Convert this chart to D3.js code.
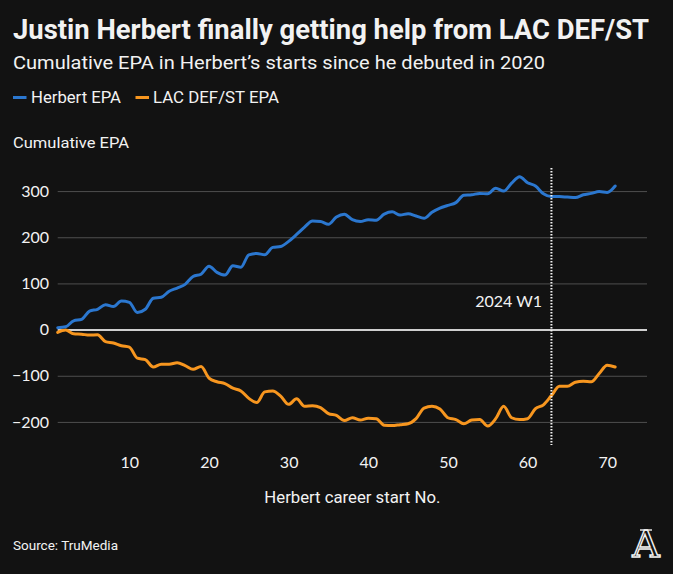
<!DOCTYPE html>
<html>
<head>
<meta charset="utf-8">
<script src="https://cdn.jsdelivr.net/npm/d3@7"></script>
<style>
  html, body { margin: 0; padding: 0; background: #121212; }
  svg { display: block; }
</style>
</head>
<body>
<svg id="chart" width="673" height="574"></svg>
<script>
// ---- data ----
const starts = d3.range(1, 72); // Herbert career start No. 1..71
const herbertEPA = [
  4, 6, 19, 22, 40, 44, 54, 50, 62, 59,
  37, 44, 68, 70, 83, 90, 98, 115, 120, 137,
  124, 118, 138, 135, 162, 165, 162, 178, 180, 191,
  206, 222, 235, 234, 228, 244, 250, 238, 234, 238,
  237, 250, 255, 248, 251, 246, 241, 254, 263, 269,
  275, 291, 292, 295, 294, 306, 300, 317, 331, 318,
  311, 294, 288, 288, 287, 286, 292, 295, 299, 297,
  311
];
const lacEPA = [
  -6, -1, -9, -10, -12, -11, -26, -29, -35, -38,
  -62, -65, -81, -75, -75, -72, -78, -86, -80, -105,
  -113, -117, -127, -133, -149, -158, -135, -133, -144, -162,
  -150, -166, -165, -169, -182, -186, -197, -191, -196, -192,
  -193, -207, -208, -206, -204, -193, -170, -166, -172, -191,
  -195, -204, -196, -195, -209, -193, -166, -191, -195, -193,
  -171, -163, -143, -123, -123, -114, -112, -113, -95, -77,
  -81
];
const seriesNames = ["Herbert EPA", "LAC DEF/ST EPA"];
const seriesColors = ["#2b77cf", "#f7961f"];
const yTicks = [-200, -100, 0, 100, 200, 300];
const xTicks = [10, 20, 30, 40, 50, 60, 70];
const markerStart = 63;
const markerLabel = "2024 W1";

// ---- layout ----
const svg = d3.select("#chart");
const W = 673, H = 574;
svg.append("rect").attr("width", W).attr("height", H).attr("fill", "#121212");

const plot = { left: 57.7, right: 647, top: 168, bottom: 445 };
const x = d3.scaleLinear().domain([1, 75]).range([plot.left, plot.right]);
const y = d3.scaleLinear().domain([-250, 350]).range([plot.bottom, plot.top]);

const textColor = "#f2f2f2";
const condensed = "'Liberation Sans Narrow', 'Roboto', 'Arial Narrow', sans-serif";

// title
svg.append("text")
  .attr("x", 13).attr("y", 39)
  .attr("font-family", condensed).attr("font-weight", 700)
  .attr("font-size", 27).attr("fill", textColor)
  .attr("textLength", 636).attr("lengthAdjust", "spacingAndGlyphs")
  .text("Justin Herbert finally getting help from LAC DEF/ST");

svg.append("text")
  .attr("x", 13).attr("y", 69)
  .attr("font-family", "Roboto, sans-serif")
  .attr("font-size", 18).attr("fill", textColor)
  .attr("textLength", 532).attr("lengthAdjust", "spacingAndGlyphs")
  .text("Cumulative EPA in Herbert\u2019s starts since he debuted in 2020");

// legend
const legendItems = [
  { name: seriesNames[0], color: seriesColors[0], x0: 13, tx: 31, tw: 90 },
  { name: seriesNames[1], color: seriesColors[1], x0: 135.5, tx: 153, tw: 126 }
];
const lg = svg.append("g");
legendItems.forEach(d => {
  lg.append("line")
    .attr("x1", d.x0).attr("x2", d.x0 + 13.5)
    .attr("y1", 97.5).attr("y2", 97.5)
    .attr("stroke", d.color).attr("stroke-width", 3);
  lg.append("text")
    .attr("x", d.tx).attr("y", 102.7)
    .attr("font-family", "Roboto, sans-serif").attr("font-size", 16)
    .attr("fill", textColor)
    .attr("textLength", d.tw).attr("lengthAdjust", "spacingAndGlyphs")
    .text(d.name);
});

// y axis title
svg.append("text")
  .attr("x", 13).attr("y", 148)
  .attr("font-family", "Roboto, sans-serif").attr("font-size", 15)
  .attr("fill", textColor)
  .attr("textLength", 116).attr("lengthAdjust", "spacingAndGlyphs")
  .text("Cumulative EPA");

// gridlines via axis
const yAxis = d3.axisLeft(y).tickValues(yTicks)
  .tickSize(-(plot.right - plot.left)).tickPadding(8).tickFormat(d3.format("d"));
const gy = svg.append("g").attr("transform", `translate(${plot.left},0)`).call(yAxis);
gy.select(".domain").remove();
gy.selectAll(".tick line")
  .attr("stroke", d => d === 0 ? "#cfcfcf" : "#4f4f4f")
  .attr("stroke-width", d => d === 0 ? 2 : 1);
gy.selectAll(".tick text")
  .attr("x", 49 - plot.left)
  .attr("font-family", "Lato, sans-serif").attr("font-size", 16)
  .attr("fill", textColor);

const xAxis = d3.axisBottom(x).tickValues(xTicks).tickSize(0).tickPadding(0);
const gx = svg.append("g").attr("transform", `translate(0,0)`).call(xAxis);
gx.select(".domain").remove();
gx.selectAll(".tick text")
  .attr("y", 468).attr("dy", null)
  .attr("font-family", "Lato, sans-serif").attr("font-size", 16)
  .attr("fill", textColor);

// x axis title
svg.append("text")
  .attr("x", (plot.left + plot.right) / 2).attr("y", 503)
  .attr("text-anchor", "middle")
  .attr("font-family", "Roboto, sans-serif").attr("font-size", 17)
  .attr("fill", textColor)
  .attr("textLength", 176).attr("lengthAdjust", "spacingAndGlyphs")
  .text("Herbert career start No.");

// lines
const line = d3.line().x((d, i) => x(starts[i])).y(d => y(d)).curve(d3.curveMonotoneX);
[lacEPA, herbertEPA].forEach((vals, k) => {
  svg.append("path")
    .datum(vals)
    .attr("d", line)
    .attr("fill", "none")
    .attr("stroke", k === 0 ? seriesColors[1] : seriesColors[0])
    .attr("stroke-width", 3)
    .attr("stroke-linejoin", "round")
    .attr("stroke-linecap", "round");
});

// marker
svg.append("line")
  .attr("x1", x(markerStart)).attr("x2", x(markerStart))
  .attr("y1", y(350)).attr("y2", y(-250))
  .attr("stroke", "#f2f2f2").attr("stroke-width", 2)
  .attr("stroke-dasharray", "1.5,1.5");
svg.append("text")
  .attr("x", 542).attr("y", 306.5)
  .attr("text-anchor", "end")
  .attr("font-family", "Lato, sans-serif").attr("font-size", 16)
  .attr("fill", textColor)
  .text(markerLabel);

// source
svg.append("text")
  .attr("x", 13).attr("y", 550)
  .attr("font-family", "Roboto, sans-serif").attr("font-size", 13)
  .attr("fill", textColor)
  .attr("textLength", 105).attr("lengthAdjust", "spacingAndGlyphs")
  .text("Source: TruMedia");

// logo
const logo = svg.append("g");
logo.append("text")
  .attr("x", 646).attr("y", 557)
  .attr("text-anchor", "middle")
  .attr("font-family", "'DejaVu Serif', serif").attr("font-size", 38)
  .attr("fill", "#121212").attr("stroke", "#f2f2f2").attr("stroke-width", 1.4)
  .text("A");
logo.append("line")
  .attr("x1", 640).attr("x2", 652).attr("y1", 530).attr("y2", 530)
  .attr("stroke", "#f2f2f2").attr("stroke-width", 1.4);
</script>
</body>
</html>
